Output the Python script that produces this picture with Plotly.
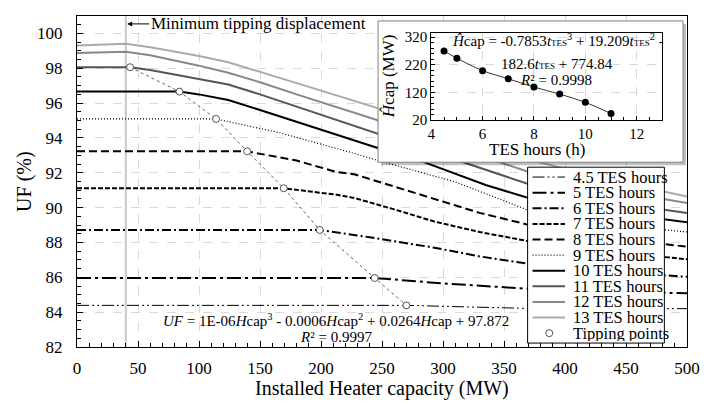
import plotly.graph_objects as go

# ---------------- data ----------------
cap_13 = [0, 20, 40, 60, 80, 100, 124, 150, 180, 210, 247, 300, 368, 430, 500]
uf_13 = [99.30, 99.35, 99.40, 99.20, 98.95, 98.70, 98.35, 97.80, 97.15, 96.50, 95.70, 94.40, 92.80, 91.70, 90.64]

cap_12 = [0, 40, 60, 80, 100, 124, 150, 180, 210, 244, 300, 368, 430, 500]
uf_12 = [98.88, 98.95, 98.75, 98.45, 98.15, 97.74, 97.20, 96.50, 95.85, 95.07, 93.70, 92.10, 91.10, 90.26]

cap_11 = [0, 43.5, 60, 80, 100, 124, 150, 180, 210, 244, 310, 368, 430, 500]
uf_11 = [98.06, 98.06, 97.90, 97.65, 97.40, 97.07, 96.50, 95.80, 95.10, 94.33, 92.75, 91.40, 90.40, 89.69]

cap_10 = [0, 84, 100, 124, 150, 180, 210, 244, 285, 335, 368, 430, 500]
uf_10 = [96.66, 96.66, 96.50, 96.18, 95.60, 94.92, 94.25, 93.48, 92.60, 91.30, 90.60, 89.80, 89.16]

cap_9 = [0, 114, 166, 200, 228, 247, 282, 309, 335, 368, 430, 500]
uf_9 = [95.09, 95.09, 94.30, 93.65, 93.10, 92.70, 92.04, 91.50, 90.80, 89.90, 89.10, 88.60]

cap_8 = [0, 139.5, 180, 212, 228, 260, 295, 330, 368, 430, 500]
uf_8 = [93.23, 93.23, 92.70, 92.06, 91.90, 91.20, 90.45, 89.70, 89.05, 88.30, 87.76]

cap_7 = [0, 169.5, 212, 228, 260, 293, 330, 368, 430, 500]
uf_7 = [91.11, 91.11, 90.75, 90.54, 89.90, 89.20, 88.60, 88.10, 87.50, 87.04]

cap_6 = [0, 199, 240, 293, 330, 368, 430, 500]
uf_6 = [88.72, 88.72, 88.30, 87.70, 87.20, 86.80, 86.35, 86.03]

cap_5 = [0, 244, 300, 368, 430, 500]
uf_5 = [85.96, 85.96, 85.65, 85.35, 85.20, 85.08]

cap_45 = [0, 270, 320, 368, 430, 500]
uf_45 = [84.39, 84.39, 84.30, 84.22, 84.20, 84.20]

tip_cap = [43.5, 84, 114, 139.5, 169.5, 199, 244, 270]
tip_uf = [98.06, 96.66, 95.09, 93.23, 91.11, 88.72, 85.96, 84.39]

min_tip_cap = 40

tes_hours = [4.5, 5, 6, 7, 8, 9, 10, 11]
hcap_tip = [270, 244, 199, 169.5, 139.5, 114, 84, 43.5]

series_names = ["4.5 TES hours", "5 TES hours", "6 TES hours", "7 TES hours", "8 TES hours",
                "9 TES hours", "10 TES hours", "11 TES hours", "12 TES hours", "13 TES hours"]
series_x = [cap_45, cap_5, cap_6, cap_7, cap_8, cap_9, cap_10, cap_11, cap_12, cap_13]
series_y = [uf_45, uf_5, uf_6, uf_7, uf_8, uf_9, uf_10, uf_11, uf_12, uf_13]

# ---------------- styles ----------------
FONT = "Liberation Serif"
W, H = 712, 404
L, R, T, B = 77, 697, 12, 347
XR = [0, 500]
YR = [82, 101]

styles = [
    dict(color="black", width=1, dash="12px,3px,2px,3px,2px,3px"),
    dict(color="black", width=2, dash="14px,4px,3px,4px"),
    dict(color="black", width=2, dash="9px,3px,2px,3px"),
    dict(color="black", width=2, dash="5px,2px"),
    dict(color="black", width=2, dash="8px,4px"),
    dict(color="black", width=1.2, dash="1px,2px"),
    dict(color="black", width=2, dash="solid"),
    dict(color="#555555", width=2, dash="solid"),
    dict(color="#888888", width=2, dash="solid"),
    dict(color="#aaaaaa", width=2, dash="solid"),
]


def pxx(px):  # pixel -> paper x
    return (px - L) / (R - L)


def pyy(py):  # pixel -> paper y
    return (B - py) / (B - T)


def dx(px):  # pixel -> data x (main)
    return XR[0] + (px - L) / (R - L) * (XR[1] - XR[0])


def dy(py):  # pixel -> data y (main)
    return YR[0] + (B - py) / (B - T) * (YR[1] - YR[0])


fig = go.Figure()

# minimum tipping displacement line
fig.add_trace(go.Scatter(x=[min_tip_cap, min_tip_cap], y=YR, mode="lines",
                         line=dict(color="#c8c8c8", width=2), showlegend=False, hoverinfo="skip"))

for xs, ys, st, nm in zip(series_x, series_y, styles, series_names):
    fig.add_trace(go.Scatter(x=xs, y=ys, mode="lines", name=nm, line=st, showlegend=False))

fig.add_trace(go.Scatter(x=tip_cap, y=tip_uf, mode="lines+markers", name="Tipping points",
                         line=dict(color="#56627e", width=1, dash="dot"),
                         marker=dict(symbol="circle", size=7, color="white",
                                     line=dict(color="#555555", width=1)),
                         showlegend=False))

# inset box (shadow + white background) in main subplot
bx0, bx1, by0, by1 = 383, 693, 17, 160
sh = 3
fig.add_trace(go.Scatter(x=[dx(bx0 + sh), dx(bx1 + sh), dx(bx1 + sh), dx(bx0 + sh), dx(bx0 + sh)],
                         y=[dy(by0 + sh), dy(by0 + sh), dy(by1 + sh), dy(by1 + sh), dy(by0 + sh)],
                         mode="lines", fill="toself", fillcolor="rgba(0,0,0,0.25)",
                         line=dict(width=0), showlegend=False, hoverinfo="skip"))
fig.add_trace(go.Scatter(x=[dx(bx0), dx(bx1), dx(bx1), dx(bx0), dx(bx0)],
                         y=[dy(by0), dy(by0), dy(by1), dy(by1), dy(by0)],
                         mode="lines", fill="toself", fillcolor="white",
                         line=dict(color="#808080", width=1), showlegend=False, hoverinfo="skip"))

# inset data
fig.add_trace(go.Scatter(x=tes_hours, y=hcap_tip, mode="lines+markers", xaxis="x2", yaxis="y2",
                         line=dict(color="black", width=0.8, shape="spline"),
                         marker=dict(color="black", size=7), showlegend=False))

axis_common = dict(showline=True, linecolor="black", linewidth=1, mirror=True,
                   ticks="inside", tickcolor="black", showgrid=True, gridcolor="#d9d9d9",
                   griddash="dash", gridwidth=1, zeroline=False)

fig.update_layout(
    width=W, height=H,
    margin=dict(l=L, r=W - R, t=T, b=H - B),
    paper_bgcolor="white", plot_bgcolor="white",
    font=dict(family=FONT, color="black"),
    showlegend=False,
    xaxis=dict(range=XR, dtick=50, tick0=0, ticklen=6,
               tickfont=dict(size=17, family=FONT), ticklabelstandoff=6,
               minor=dict(dtick=10, ticks="inside", ticklen=4, tickcolor="black", showgrid=False),
               **axis_common),
    yaxis=dict(range=YR, dtick=2, tick0=82, ticklen=6,
               tickfont=dict(size=17, family=FONT), ticklabelstandoff=10,
               minor=dict(dtick=0.5, ticks="inside", ticklen=4, tickcolor="black", showgrid=False),
               **axis_common),
    xaxis2=dict(domain=[pxx(437), pxx(672)], anchor="y2", range=[4, 13], dtick=2, tick0=4,
                ticklen=4, tickfont=dict(size=15, family=FONT),
                minor=dict(dtick=0.5, ticks="inside", ticklen=3, tickcolor="black", showgrid=False),
                **axis_common),
    yaxis2=dict(domain=[pyy(117.3), pyy(29.3)], anchor="x2", range=[20, 335], dtick=100, tick0=20,
                ticklen=4, tickfont=dict(size=15, family=FONT),
                minor=dict(dtick=20, ticks="inside", ticklen=3, tickcolor="black", showgrid=False),
                **axis_common),
)

ann = []
# axis titles
ann.append(dict(text="Installed Heater capacity (MW)", x=pxx(387), y=pyy(389), xref="paper", yref="paper",
                showarrow=False, font=dict(size=20, family=FONT), xanchor="center", yanchor="middle"))
ann.append(dict(text="UF (%)", x=pxx(23), y=pyy(179), xref="paper", yref="paper", textangle=-90,
                showarrow=False, font=dict(size=20, family=FONT), xanchor="center", yanchor="middle"))
# minimum tipping annotation
ann.append(dict(text="Minimum tipping displacement", x=dx(128), y=dy(20), xref="x", yref="y",
                ax=131, ay=0, showarrow=True, arrowhead=2, arrowsize=1, arrowwidth=1,
                arrowcolor="black", font=dict(size=17, family=FONT)))
# main fit formula
ann.append(dict(text="<i>UF</i> = 1E-06<i>H</i>cap<sup>3</sup> - 0.0006<i>H</i>cap<sup>2</sup> + 0.0264<i>H</i>cap + 97.872",
                x=pxx(340), y=pyy(320), xref="paper", yref="paper", showarrow=False,
                font=dict(size=15, family=FONT), xanchor="center", yanchor="middle"))
ann.append(dict(text="<i>R</i>² = 0.9997", x=pxx(340), y=pyy(337), xref="paper", yref="paper",
                showarrow=False, font=dict(size=15, family=FONT), xanchor="center", yanchor="middle"))
# inset texts
small = "<span style='font-size:9px'>TES</span>"
ann.append(dict(text="<i>Ĥ</i>cap = -0.7853<i>t</i>" + small + "<sup>3</sup> + 19.209<i>t</i>" + small + "<sup>2</sup> -",
                x=pxx(566), y=pyy(36), xref="paper", yref="paper", showarrow=False,
                font=dict(size=15, family=FONT), xanchor="center", yanchor="middle"))
ann.append(dict(text="182.6<i>t</i>" + small + " + 774.84", x=pxx(565), y=pyy(61), xref="paper", yref="paper",
                showarrow=False, font=dict(size=15, family=FONT), xanchor="center", yanchor="middle"))
ann.append(dict(text="<i>R</i>² = 0.9998", x=pxx(564), y=pyy(77), xref="paper", yref="paper",
                showarrow=False, font=dict(size=15, family=FONT), xanchor="center", yanchor="middle"))
ann.append(dict(text="TES hours (h)", x=pxx(545), y=pyy(147), xref="paper", yref="paper",
                showarrow=False, font=dict(size=17, family=FONT), xanchor="center", yanchor="middle"))
ann.append(dict(text="<i>Ĥ</i>cap (MW)", x=pxx(393), y=pyy(73), xref="paper", yref="paper", textangle=-90,
                showarrow=False, font=dict(size=17, family=FONT), xanchor="center", yanchor="middle"))

# custom legend
shapes = []
shapes.append(dict(type="rect", xref="paper", yref="paper", x0=pxx(535), x1=pxx(674), y0=pyy(343), y1=pyy(165),
                   fillcolor="white", line=dict(color="black", width=1), layer="above"))
row0, step = 175, 15.8
legend_names = series_names + ["Tipping points"]
for i, nm in enumerate(legend_names):
    yc = row0 + i * step
    if i < len(styles):
        st = styles[i]
        shapes.append(dict(type="line", xref="paper", yref="paper", x0=pxx(540), x1=pxx(573),
                           y0=pyy(yc), y1=pyy(yc), line=dict(color=st["color"], width=st["width"], dash=st["dash"]),
                           layer="above"))
    else:
        shapes.append(dict(type="circle", xref="paper", yref="paper", xsizemode="pixel", ysizemode="pixel",
                           xanchor=pxx(557), yanchor=pyy(yc), x0=-3.5, x1=3.5, y0=-3.5, y1=3.5,
                           line=dict(color="#555555", width=1), fillcolor="white", layer="above"))
    ann.append(dict(text=nm, x=pxx(580), y=pyy(yc), xref="paper", yref="paper", showarrow=False,
                    font=dict(size=16.5, family=FONT), xanchor="left", yanchor="middle",
                    height=15, borderpad=0, valign="middle"))

fig.update_layout(annotations=ann, shapes=shapes)

fig.write_html("out.html")
